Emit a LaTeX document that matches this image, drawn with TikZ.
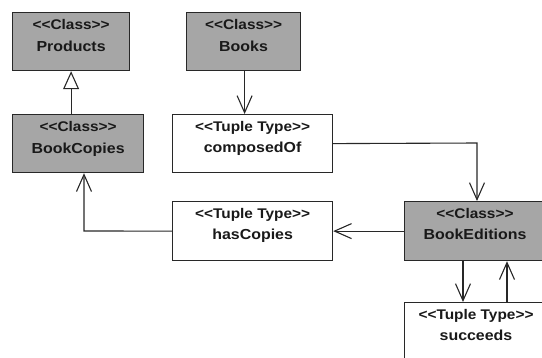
\documentclass[tikz,border=0pt]{standalone}
\usepackage{fontspec}
\newfontfamily\umlfont{Liberation Sans}[FakeStretch=1.1]
\usetikzlibrary{arrows.meta,calc}
\definecolor{boxgray}{RGB}{166,166,166}
\definecolor{linec}{RGB}{40,40,40}
\definecolor{txtc}{RGB}{25,25,25}
\begin{document}
\begin{tikzpicture}[x=1pt,y=-1pt,
  box/.style={draw=linec, line width=1.2pt, rectangle, inner sep=0pt, anchor=north west},
  classbox/.style={box, fill=boxgray},
  tuplebox/.style={box, fill=white},
  stereo/.style={anchor=base, inner sep=0pt, text=txtc, font=\umlfont\bfseries\fontsize{14}{16}\selectfont},
  umlname/.style={anchor=base, inner sep=0pt, text=txtc, font=\umlfont\bfseries\fontsize{14.5}{17}\selectfont},
  conn/.style={draw=linec, line width=1.1pt},
  assoc/.style={conn, -{Straight Barb[length=17pt,width=15pt,line width=1.1pt]}},
  gen/.style={conn, -{Triangle[open,fill=white,length=18pt,width=16pt,line width=1.1pt]}}
]
\useasboundingbox (0,0) rectangle (542,357);
\clip (0,0) rectangle (542,357);

% boxes
\node[classbox, minimum width=117pt, minimum height=58pt] (products) at (12,12) {};
\node[classbox, minimum width=114pt, minimum height=58pt] (books) at (186,12) {};
\node[classbox, minimum width=131pt, minimum height=58pt] (bookcopies) at (12,114) {};
\node[tuplebox, minimum width=160pt, minimum height=58pt] (composedof) at (172,114) {};
\node[tuplebox, minimum width=160pt, minimum height=59pt] (hascopies) at (172,201) {};
\node[classbox, minimum width=142pt, minimum height=59pt] (bookeditions) at (404,201) {};
\node[tuplebox, minimum width=142pt, minimum height=80pt] (succeeds) at (404,302) {};

% texts
\node[stereo] (productsS) at ($(products.north)+(0,17)$) {<{}<Class>{}>};
\node[umlname] (productsN) at ($(products.north)+(0,39)$) {Products};
\node[stereo] (booksS) at ($(books.north)+(0,17)$) {<{}<Class>{}>};
\node[umlname] (booksN) at ($(books.north)+(0,39)$) {Books};
\node[stereo] (bookcopiesS) at ($(bookcopies.north)+(0,17)$) {<{}<Class>{}>};
\node[umlname] (bookcopiesN) at ($(bookcopies.north)+(0,39)$) {BookCopies};
\node[stereo] (composedofS) at ($(composedof.north)+(0,17)$) {<{}<Tuple Type>{}>};
\node[umlname] (composedofN) at ($(composedof.north)+(0,38)$) {composedOf};
\node[stereo] (hascopiesS) at ($(hascopies.north)+(0,17)$) {<{}<Tuple Type>{}>};
\node[umlname] (hascopiesN) at ($(hascopies.north)+(0,38)$) {hasCopies};
\node[stereo] (bookeditionsS) at (475,218) {<{}<Class>{}>};
\node[umlname] (bookeditionsN) at (475,239) {BookEditions};
\node[stereo] (succeedsS) at (476,319) {<{}<Tuple Type>{}>};
\node[umlname] (succeedsN) at (476,340) {succeeds};

% connectors
\draw[gen] (bookcopies.north -| products.south) -- (products.south);
\draw[assoc] ([xshift=1pt]books.south) -- ([xshift=1pt]books.south |- composedof.north);
\coordinate (c1) at (477,143);
\draw[assoc] (composedof.east) -- (c1) -- (c1 |- bookeditions.north);
\draw[assoc] (bookeditions.west) -- (hascopies.east);
\coordinate (c2) at (84,231);
\draw[assoc] (hascopies.west) -- (c2) -- (c2 |- bookcopies.south);
\coordinate (c3) at (463,260);
\draw[assoc] (c3) -- (c3 |- succeeds.north);
\coordinate (c4) at (507,302);
\draw[assoc] (c4) -- (c4 |- bookeditions.south);
\end{tikzpicture}
\end{document}
